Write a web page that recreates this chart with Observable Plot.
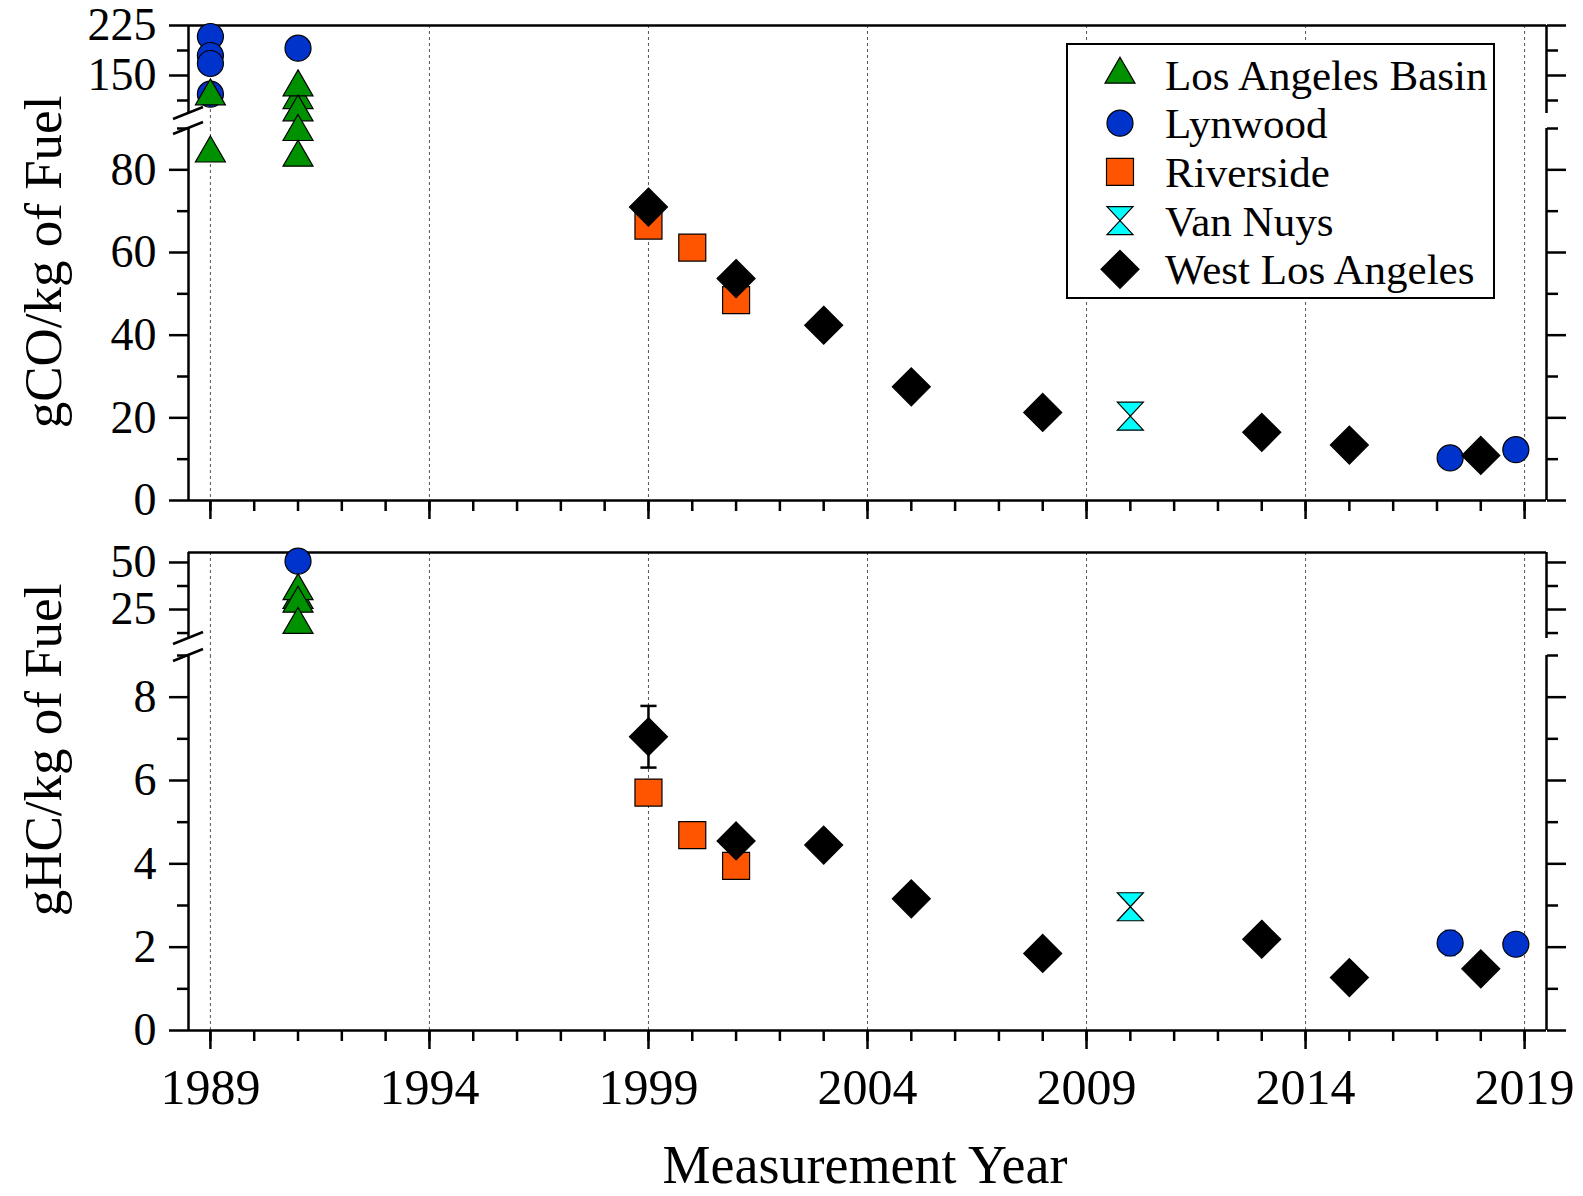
<!DOCTYPE html>
<html><head><meta charset="utf-8">
<script src="https://cdn.jsdelivr.net/npm/d3@7"></script>
<script src="https://cdn.jsdelivr.net/npm/@observablehq/plot@0.6"></script>
<style>
body{margin:0;background:#fff;}
#fig{position:relative;width:1583px;height:1196px;background:#fff;overflow:hidden;}
#fig svg{position:absolute;left:0;top:0;}
</style></head><body><div id="fig"></div>
<script>
// ---------------- data ----------------
const seriesNames = ["Los Angeles Basin", "Lynwood", "Riverside", "Van Nuys", "West Los Angeles"];
const seriesFill = ["#009100", "#0033cc", "#ff5500", "#00ffff", "#000000"];

// CO, g/kg of fuel
const coLABasinYear = [1989, 1989, 1991, 1991, 1991, 1991, 1991];
const coLABasin     = [119, 84, 113.5, 132.5, 95, 89.2, 83];
const coLynwoodYear = [1989, 1989, 1989, 1989, 1991, 2017.3, 2018.8];
const coLynwood     = [208.5, 180, 168, 122, 191, 10.3, 12.3];
const coRiversideYear = [1999, 2000, 2001];
const coRiverside     = [66.5, 61.2, 48.5];
const coVanNuysYear = [2010];
const coVanNuys     = [20.4];
const coWestLAYear = [1999, 2001, 2003, 2005, 2008, 2013, 2015, 2018];
const coWestLA     = [71, 53.7, 42.4, 27.5, 21.3, 16.5, 13.4, 10.9];

// HC, g/kg of fuel
const hcLABasinYear = [1991, 1991, 1991, 1991];
const hcLABasin     = [30.2, 34.9, 28.2, 16.9];
const hcLynwoodYear = [1991, 2017.3, 2018.8];
const hcLynwood     = [50.7, 2.10, 2.07];
const hcLynwoodErr  = [0, 0.29, 0];
const hcRiversideYear = [1999, 2000, 2001];
const hcRiverside     = [5.71, 4.69, 3.95];
const hcVanNuysYear = [2010];
const hcVanNuys     = [2.97];
const hcWestLAYear = [1999, 2001, 2003, 2005, 2008, 2013, 2015, 2018];
const hcWestLA     = [7.05, 4.55, 4.45, 3.16, 1.85, 2.19, 1.27, 1.48];
const hcWestLAErr  = [0.74, 0, 0, 0, 0, 0, 0, 0];

// axes
const xDomain = [1988.5, 2019.5];
const xMajorTicks = [1989, 1994, 1999, 2004, 2009, 2014, 2019];
const xMinorTicks = d3.range(1989, 2020);
const coUpperDomain = [93, 225], coLowerDomain = [0, 90];
const coUpperTicks = [150, 225], coUpperMinor = [112.5, 187.5];
const coLowerTicks = [0, 20, 40, 60, 80], coLowerMinor = [10, 30, 50, 70, 90];
const hcUpperDomain = [9.6, 55.3], hcLowerDomain = [0, 9];
const hcUpperTicks = [25, 50], hcUpperMinor = [12.5, 37.5];
const hcLowerTicks = [0, 2, 4, 6, 8], hcLowerMinor = [1, 3, 5, 7, 9];

// ---------------- symbols ----------------
const kOf = size => Math.sqrt(size / Math.PI) / 13;
const symTriangle = {draw(c, s){const k=kOf(s); c.moveTo(0,-17.3*k); c.lineTo(15*k,8.7*k); c.lineTo(-15*k,8.7*k); c.closePath();}};
const symSquare = {draw(c, s){const h=13.5*kOf(s); c.moveTo(-h,-h); c.lineTo(h,-h); c.lineTo(h,h); c.lineTo(-h,h); c.closePath();}};
const symDiamond = {draw(c, s){const h=19*kOf(s); c.moveTo(0,-h); c.lineTo(h,0); c.lineTo(0,h); c.lineTo(-h,0); c.closePath();}};
const symHourglass = {draw(c, s){const k=kOf(s); c.moveTo(-13*k,-14*k); c.lineTo(13*k,-14*k); c.lineTo(-13*k,14*k); c.lineTo(13*k,14*k); c.closePath();}};
const symCap = {draw(c, s){const h=7*kOf(s); c.moveTo(-h,0); c.lineTo(h,0);}};
const seriesSymbol = [symTriangle, d3.symbolCircle, symSquare, symHourglass, symDiamond];

const rows = (years, vals, errs) => years.map((y, i) => ({year: y, value: vals[i], err: errs ? errs[i] : 0}));

const W = 1583, H = 1196, ML = 188, MR = 1583 - 1546;
const FONT = "'Liberation Serif','Times New Roman','DejaVu Serif',serif";
const AX = 2.5;
const fig = document.getElementById("fig");

function segment({domain, top, bottom, majorTicks, minorTicks, frameTop, frameBottom, xAxis, xLabels, gridDown, series, errSeries}) {
  const inDom = d => d.value >= domain[0] && d.value <= domain[1];
  const marks = [];
  marks.push(Plot.ruleX(xMajorTicks, {stroke: "#555", strokeWidth: 1, strokeDasharray: "3,3", insetBottom: -gridDown}));
  marks.push(Plot.ruleX(xDomain, {stroke: "black", strokeWidth: AX}));
  if (frameTop) marks.push(Plot.ruleY([domain[1]], {stroke: "black", strokeWidth: AX}));
  if (frameBottom) marks.push(Plot.ruleY([domain[0]], {stroke: "black", strokeWidth: AX}));
  for (const anchor of ["left", "right"]) {
    marks.push(Plot.axisY(majorTicks, {anchor, tickSize: 19, tickPadding: 13, strokeWidth: AX, label: null,
      tickFormat: anchor === "left" ? (d => String(d)) : (() => "")}));
    marks.push(Plot.axisY(minorTicks, {anchor, tickSize: 11, strokeWidth: AX, label: null, tickFormat: () => ""}));
  }
  if (xAxis) {
    marks.push(Plot.axisX(xMajorTicks, {anchor: "bottom", tickSize: 19, tickPadding: 19, strokeWidth: AX, label: null,
      fontSize: 50, tickFormat: xLabels ? (d => String(d)) : (() => "")}));
    marks.push(Plot.axisX(xMinorTicks, {anchor: "bottom", tickSize: 11, strokeWidth: AX, label: null, tickFormat: () => ""}));
  }
  for (const e of errSeries) {
    const d = e.data.filter(r => r.err > 0 && inDom(r));
    marks.push(Plot.ruleX(d, {x: "year", y1: r => r.value - r.err, y2: r => r.value + r.err, stroke: e.color, strokeWidth: AX}));
    marks.push(Plot.dot(d, {x: "year", y: r => r.value - r.err, symbol: symCap, r: e.cap, stroke: e.color, fill: "none", strokeWidth: AX}));
    marks.push(Plot.dot(d, {x: "year", y: r => r.value + r.err, symbol: symCap, r: e.cap, stroke: e.color, fill: "none", strokeWidth: AX}));
  }
  for (const s of series) {
    marks.push(Plot.dot(s.data.filter(inDom), {x: "year", y: "value", symbol: seriesSymbol[s.i], r: 13,
      fill: seriesFill[s.i], stroke: "black", strokeWidth: 1.2}));
  }
  const svg = Plot.plot({
    width: W, height: H, marginLeft: ML, marginRight: MR, marginTop: top, marginBottom: H - bottom,
    style: `background: transparent; overflow: visible; font-family: ${FONT}; font-size: 46px; color: black;`,
    x: {domain: xDomain, axis: null},
    y: {domain, axis: null},
    marks
  });
  fig.appendChild(svg);
  return svg;
}

function addSlash(svg, yPix) {
  d3.select(svg).append("line").attr("stroke", "black").attr("stroke-width", AX)
    .attr("x1", ML - 15).attr("y1", yPix + 6).attr("x2", ML + 15).attr("y2", yPix - 6);
}
function addText(svg, x, y, rot, size, txt) {
  d3.select(svg).append("text")
    .attr("transform", `translate(${x},${y}) rotate(${rot})`)
    .attr("text-anchor", "middle").attr("fill", "black")
    .style("font-family", FONT).style("font-size", size + "px").text(txt);
}

const coSeries = [
  {i: 1, data: rows(coLynwoodYear, coLynwood)},
  {i: 0, data: rows(coLABasinYear, coLABasin)},
  {i: 2, data: rows(coRiversideYear, coRiverside)},
  {i: 3, data: rows(coVanNuysYear, coVanNuys)},
  {i: 4, data: rows(coWestLAYear, coWestLA)}
];
const hcSeries = [
  {i: 1, data: rows(hcLynwoodYear, hcLynwood)},
  {i: 0, data: rows(hcLABasinYear, hcLABasin)},
  {i: 2, data: rows(hcRiversideYear, hcRiverside)},
  {i: 3, data: rows(hcVanNuysYear, hcVanNuys)},
  {i: 4, data: rows(hcWestLAYear, hcWestLA)}
];
const hcErr = [
  {color: seriesFill[1], cap: 10, data: rows(hcLynwoodYear, hcLynwood, hcLynwoodErr)},
  {color: seriesFill[4], cap: 15, data: rows(hcWestLAYear, hcWestLA, hcWestLAErr)}
];

// CO panel
const coUp = segment({domain: coUpperDomain, top: 25, bottom: 113, majorTicks: coUpperTicks, minorTicks: coUpperMinor,
  frameTop: true, frameBottom: false, xAxis: false, gridDown: 15, series: coSeries, errSeries: []});
addSlash(coUp, coUp.scale("y").apply(coUpperDomain[0]));
const coLo = segment({domain: coLowerDomain, top: 128, bottom: 500, majorTicks: coLowerTicks, minorTicks: coLowerMinor,
  frameTop: false, frameBottom: true, xAxis: true, xLabels: false, gridDown: 0, series: coSeries, errSeries: []});
addSlash(coLo, coLo.scale("y").apply(coLowerDomain[1]));
addText(coLo, 61, 262, -90, 53, "gCO/kg of Fuel");

// legend
{
  const g = d3.select(coLo).append("g");
  g.append("rect").attr("x", 1067).attr("y", 44).attr("width", 427).attr("height", 254)
    .attr("fill", "white").attr("stroke", "black").attr("stroke-width", 2);
  seriesNames.forEach((name, i) => {
    const cy = 74.5 + i * 48.7;
    g.append("path").attr("transform", `translate(1120,${cy})`)
      .attr("d", d3.symbol(seriesSymbol[i], Math.PI * 169)())
      .attr("fill", seriesFill[i]).attr("stroke", "black").attr("stroke-width", 1.2);
    g.append("text").attr("x", 1165).attr("y", cy + 15).attr("fill", "black").attr("text-anchor", "start")
      .style("font-family", FONT).style("font-size", "43px").text(name);
  });
}

// HC panel
const hcUp = segment({domain: hcUpperDomain, top: 552, bottom: 638, majorTicks: hcUpperTicks, minorTicks: hcUpperMinor,
  frameTop: true, frameBottom: false, xAxis: false, gridDown: 17, series: hcSeries, errSeries: hcErr});
addSlash(hcUp, hcUp.scale("y").apply(hcUpperDomain[0]));
const hcLo = segment({domain: hcLowerDomain, top: 655, bottom: 1030, majorTicks: hcLowerTicks, minorTicks: hcLowerMinor,
  frameTop: false, frameBottom: true, xAxis: true, xLabels: true, gridDown: 0, series: hcSeries, errSeries: hcErr});
addSlash(hcLo, hcLo.scale("y").apply(hcLowerDomain[1]));
addText(hcLo, 61, 750, -90, 53, "gHC/kg of Fuel");
addText(hcLo, 865, 1183, 0, 54, "Measurement Year");
</script></body></html>
